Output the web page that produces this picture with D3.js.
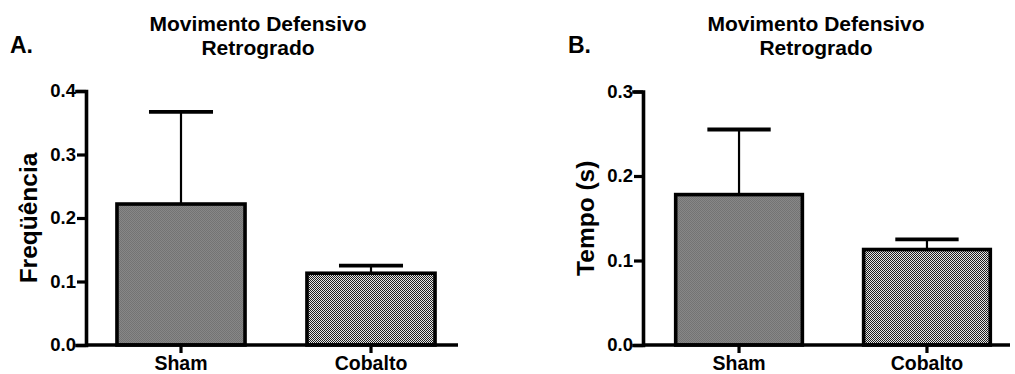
<!DOCTYPE html>
<html>
<head>
<meta charset="utf-8">
<script src="https://cdn.jsdelivr.net/npm/d3@7"></script>
<style>
  html, body { margin: 0; padding: 0; background: #fff; }
  svg { display: block; font-family: "Liberation Sans", Arial, Helvetica, sans-serif; font-weight: bold; }
</style>
</head>
<body>
<svg id="chart" width="1015" height="374"></svg>
<script>
// Group labels
const categories = ["Sham", "Cobalto"];

// Panel A: frequency (mean and upper error)
const freqMeans = [0.222, 0.113];
const freqErrors = [0.145, 0.012];
const freqTicks = [0.0, 0.1, 0.2, 0.3, 0.4];

// Panel B: time in seconds (mean and upper error)
const tempoMeans = [0.178, 0.113];
const tempoErrors = [0.077, 0.012];
const tempoTicks = [0.0, 0.1, 0.2, 0.3];

const FONT = "'Liberation Sans', Arial, sans-serif";
const svg = d3.select("#chart");
const defs = svg.append("defs");

// Fine grey texture for the Sham bars
const pSham = defs.append("pattern")
  .attr("id", "fillSham").attr("patternUnits", "userSpaceOnUse")
  .attr("width", 2).attr("height", 2);
pSham.append("rect").attr("width", 2).attr("height", 2).attr("fill", "#878787");
pSham.append("rect").attr("width", 1).attr("height", 1).attr("fill", "#737373");
pSham.append("rect").attr("x", 1).attr("y", 1).attr("width", 1).attr("height", 1).attr("fill", "#737373");

// Checkerboard texture for the Cobalto bars
const pCob = defs.append("pattern")
  .attr("id", "fillCobalto").attr("patternUnits", "userSpaceOnUse")
  .attr("width", 2).attr("height", 2);
pCob.append("rect").attr("width", 2).attr("height", 2).attr("fill", "#e6e6e6");
pCob.append("rect").attr("width", 1).attr("height", 1).attr("fill", "#1e1e1e");
pCob.append("rect").attr("x", 1).attr("y", 1).attr("width", 1).attr("height", 1).attr("fill", "#1e1e1e");

const fills = ["url(#fillSham)", "url(#fillCobalto)"];

function panel(opts) {
  const g = svg.append("g");
  const y = d3.scaleLinear().domain(opts.domain).range([345, opts.yTop]);
  const x = d3.scaleBand().domain(categories)
    .range([opts.left, opts.left + 380])
    .paddingInner(0.326).paddingOuter(opts.padOuter);

  // Bars
  g.selectAll("rect.bar").data(categories).join("rect")
    .attr("class", "bar")
    .attr("x", d => x(d))
    .attr("width", x.bandwidth())
    .attr("y", (d, i) => y(opts.means[i]))
    .attr("height", (d, i) => y(0) - y(opts.means[i]))
    .attr("fill", (d, i) => fills[i])
    .attr("stroke", "#000").attr("stroke-width", 3.6);

  // Upper error bars: stem and cap
  const cx = d => x(d) + x.bandwidth() / 2;
  g.selectAll("line.stem").data(categories).join("line")
    .attr("class", "stem")
    .attr("x1", cx).attr("x2", cx)
    .attr("y1", (d, i) => y(opts.means[i]))
    .attr("y2", (d, i) => y(opts.means[i] + opts.errors[i]))
    .attr("stroke", "#000").attr("stroke-width", 2.2);
  g.selectAll("line.cap").data(categories).join("line")
    .attr("class", "cap")
    .attr("x1", d => cx(d) - x.bandwidth() * 0.25)
    .attr("x2", d => cx(d) + x.bandwidth() * 0.25)
    .attr("y1", (d, i) => y(opts.means[i] + opts.errors[i]))
    .attr("y2", (d, i) => y(opts.means[i] + opts.errors[i]))
    .attr("stroke", "#000").attr("stroke-width", 3.8);

  // X axis
  const xAxis = d3.axisBottom(x).tickSizeOuter(0).tickSize(8).tickPadding(4);
  const gx = g.append("g").attr("transform", `translate(0,${y(0)})`).call(xAxis);
  gx.select(".domain").remove();
  gx.append("line")
    .attr("x1", opts.left).attr("x2", opts.axisRight)
    .attr("stroke", "#000").attr("stroke-width", 3.6);
  gx.selectAll(".tick line").attr("stroke", "#000").attr("stroke-width", 3.2);
  gx.selectAll(".tick text")
    .attr("fill", "#000").attr("font-size", 19.5).attr("font-weight", "bold")
    .attr("font-family", FONT)
    .attr("dy", "0.68em");

  // Y axis
  const yAxis = d3.axisLeft(y).tickValues(opts.ticks)
    .tickFormat(d3.format(".1f")).tickSizeOuter(0).tickSize(9).tickPadding(1);
  const gy = g.append("g").attr("transform", `translate(${opts.left},0)`).call(yAxis);
  gy.select(".domain").attr("stroke", "#000").attr("stroke-width", 3.6)
    .attr("stroke-linecap", "square");
  gy.selectAll(".tick line").attr("stroke", "#000").attr("stroke-width", 3.2);
  gy.selectAll(".tick text")
    .attr("fill", "#000").attr("font-size", 18.5).attr("font-weight", "bold")
    .attr("font-family", FONT);

  // Y label
  g.append("text")
    .attr("transform", `translate(${opts.labelX},${(y(0) + opts.yTop) / 2}) rotate(-90)`)
    .attr("text-anchor", "middle").attr("dy", "0.35em")
    .attr("font-size", 24.5).text(opts.yLabel);

  // Title
  const t = g.append("text").attr("text-anchor", "middle").attr("font-size", 21);
  opts.title.forEach((line, i) => {
    t.append("tspan").attr("x", opts.titleX).attr("y", 31 + i * 23.5).text(line);
  });

  // Panel letter
  g.append("text").attr("x", opts.letterX).attr("y", 53)
    .attr("font-size", 23).text(opts.letter);
}

panel({
  left: 86, axisRight: 458, yTop: 91, padOuter: 0.163,
  domain: [0, 0.4], ticks: freqTicks,
  means: freqMeans, errors: freqErrors,
  yLabel: "Freqüência", labelX: 28,
  title: ["Movimento Defensivo", "Retrogrado"], titleX: 258,
  letter: "A.", letterX: 10
});

panel({
  left: 643, axisRight: 1010, yTop: 91.5, padOuter: 0.174,
  domain: [0, 0.3], ticks: tempoTicks,
  means: tempoMeans, errors: tempoErrors,
  yLabel: "Tempo (s)", labelX: 585,
  title: ["Movimento Defensivo", "Retrogrado"], titleX: 816,
  letter: "B.", letterX: 568
});
</script>
</body>
</html>
